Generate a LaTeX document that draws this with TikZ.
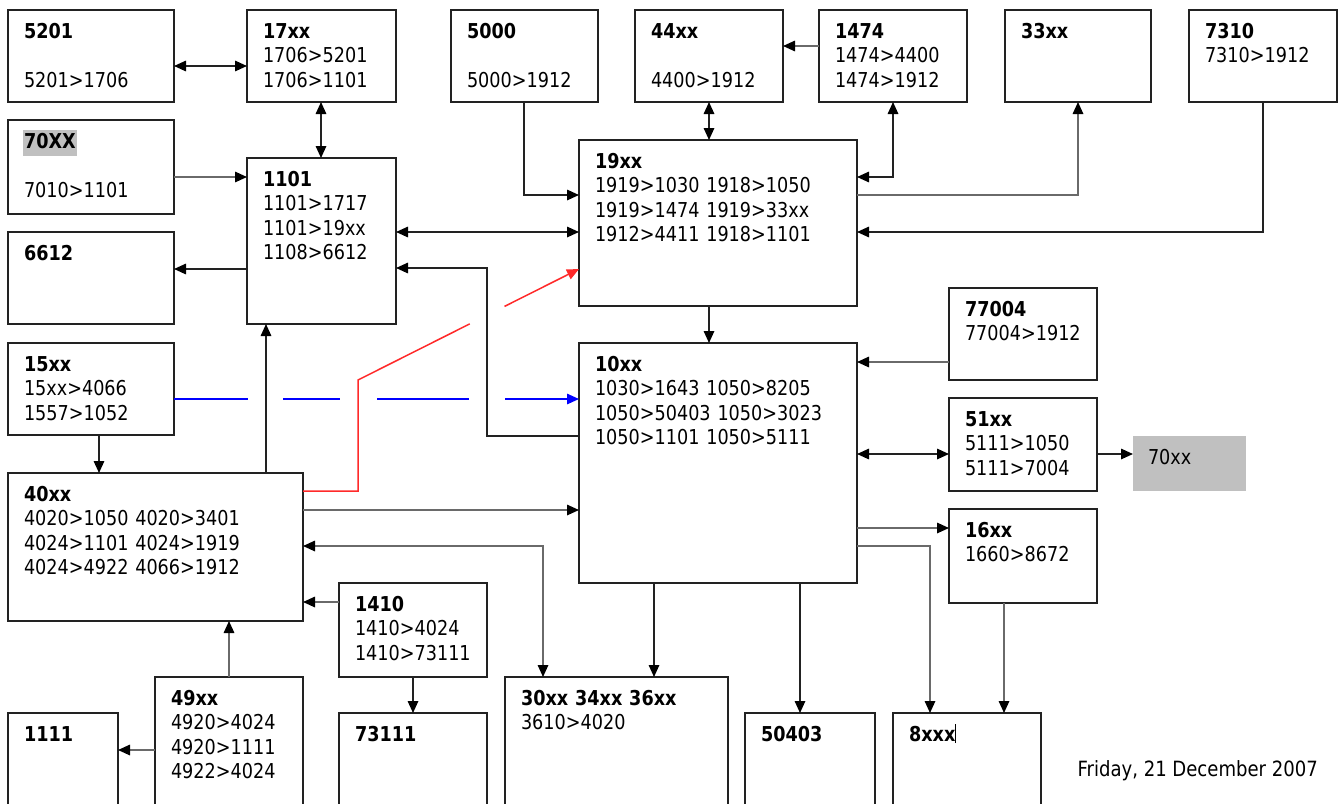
\documentclass[tikz,border=0pt]{standalone}
\usepackage{fontspec}
\setmainfont{DejaVu Sans}[FakeStretch=0.86]
\usetikzlibrary{arrows.meta}
\definecolor{lk}{HTML}{222222}
\definecolor{lg}{HTML}{6A6A6A}
\definecolor{hl}{HTML}{C0C0C0}
\definecolor{redline}{HTML}{FF2A2A}
\tikzset{tk/.tip={Triangle[length=12pt,width=10.5pt,black]}}

\begin{document}
\begin{tikzpicture}[x=1pt,y=-1pt,
  box/.style={draw=lk, line width=1.6pt, anchor=north west, outer sep=0pt, inner xsep=16pt, inner ysep=12pt, text height=16pt, align=left, font=\fontsize{20.5}{24.5}\selectfont},
  link/.style={draw=lk, line width=1.6pt, -tk},
  both/.style={link, tk-tk},
  glink/.style={link, draw=lg},
  gboth/.style={both, draw=lg}]
\path[use as bounding box, fill=white] (0,0) rectangle (1343,803);

% top row
\node[box, text width=134pt, text depth=52pt] (n5201) at (8,10) {\textbf{5201}\\[24.5pt]5201>1706};
\node[box, text width=117pt, text depth=52pt] (n17xx) at (247,10) {\textbf{17xx}\\1706>5201\\1706>1101};
\node[box, text width=115pt, text depth=52pt] (n5000) at (451,10) {\textbf{5000}\\[24.5pt]5000>1912};
\node[box, text width=116pt, text depth=52pt] (n44xx) at (635,10) {\textbf{44xx}\\[24.5pt]4400>1912};
\node[box, text width=116pt, text depth=52pt] (n1474) at (819,10) {\textbf{1474}\\1474>4400\\1474>1912};
\node[box, text width=114pt, text depth=52pt] (n33xx) at (1005,10) {\textbf{33xx}};
\node[box, text width=116pt, text depth=52pt] (n7310) at (1189,10) {\textbf{7310}\\7310>1912};

% left column
\node[box, text width=134pt, text depth=54pt] (n70xx) at (8,120) {\setlength\fboxsep{1pt}\hspace*{-1pt}\colorbox{hl}{\strut\textbf{70XX}}\\[24.5pt]7010>1101};
\node[box, text width=134pt, text depth=52pt] (n6612) at (8,232) {\textbf{6612}};
\node[box, text width=117pt, text depth=126pt] (n1101) at (247,158) {\textbf{1101}\\1101>1717\\1101>19xx\\1108>6612};
\node[box, text width=134pt, text depth=52pt] (n15xx) at (8,343) {\textbf{15xx}\\15xx>4066\\1557>1052};
\node[box, text width=263pt, text depth=108pt] (n40xx) at (8,473) {\textbf{40xx}\\4020>1050 4020>3401\\4024>1101 4024>1919\\4024>4922 4066>1912};

% middle
\node[box, text width=246pt, text depth=126pt] (n19xx) at (579,140) {\textbf{19xx}\\1919>1030 1918>1050\\1919>1474 1919>33xx\\1912>4411 1918>1101};
\node[box, text width=246pt, text depth=200pt] (n10xx) at (579,343) {\textbf{10xx}\\1030>1643 1050>8205\\1050>50403 1050>3023\\1050>1101 1050>5111};

% right column
\node[box, text width=116pt, text depth=52pt] (n77004) at (949,288) {\textbf{77004}\\77004>1912};
\node[box, text width=116pt, text depth=53pt] (n51xx) at (949,398) {\textbf{51xx}\\5111>1050\\5111>7004};
\node[box, draw=none, fill=hl, inner xsep=15pt, text width=83pt, text depth=15pt] (n70xxb) at (1133,436) {70xx};
\node[box, text width=116pt, text depth=54pt] (n16xx) at (949,509) {\textbf{16xx}\\1660>8672};

% bottom row
\node[box, text width=116pt, text depth=54pt] (n1410) at (339,583) {\textbf{1410}\\1410>4024\\1410>73111};
\node[box, text width=116pt, text depth=100pt] (n49xx) at (155,677) {\textbf{49xx}\\4920>4024\\4920>1111\\4922>4024};
\node[box, text width=78pt, text depth=60pt] (n1111) at (8,713) {\textbf{1111}};
\node[box, text width=116pt, text depth=60pt] (n73111) at (339,713) {\textbf{73111}};
\node[box, text width=191pt, text depth=100pt] (n30xx) at (505,677) {\textbf{30xx 34xx 36xx}\\3610>4020};
\node[box, text width=98pt, text depth=60pt] (n50403) at (745,713) {\textbf{50403}};
\node[box, text width=116pt, text depth=60pt] (n8xxx) at (893,713) {\textbf{8xxx}\rule[-2pt]{1pt}{19pt}};
\node[anchor=west, font=\fontsize{21}{24}\selectfont] (date) at (1074,771) {Friday, 21 December 2007};

% links
\draw[both] (n5201.east |- 0,66) -- (n17xx.west |- 0,66);
\draw[both] (n17xx.south -| 321,0) -- (n1101.north -| 321,0);
\draw[glink] (n70xx.east |- 0,177) -- (n1101.west |- 0,177);
\draw[link] (n1101.west |- 0,269) -- (n6612.east |- 0,269);
\draw[both] (n1101.east |- 0,232) -- (n19xx.west |- 0,232);
\draw[link] (n10xx.west |- 0,436) -| (487,268) -- (n1101.east |- 0,268);
\draw[link] (n5000.south -| 524,0) |- (n19xx.west |- 0,195);
\draw[both] (n44xx.south -| 709,0) -- (n19xx.north -| 709,0);
\draw[glink] (n1474.west |- 0,46) -- (n44xx.east |- 0,46);
\draw[both] (n19xx.east |- 0,177) -| (n1474.south -| 893,0);
\draw[glink] (n19xx.east |- 0,195) -| (n33xx.south -| 1078,0);
\draw[link] (n7310.south -| 1263,0) |- (n19xx.east |- 0,232);
\draw[link] (n19xx.south -| 709,0) -- (n10xx.north -| 709,0);
\draw[glink] (n77004.west |- 0,362) -- (n10xx.east |- 0,362);
\draw[both] (n10xx.east |- 0,454) -- (n51xx.west |- 0,454);
\draw[link] (n51xx.east |- 0,454) -- (n70xxb.west |- 0,454);
\draw[glink] (n10xx.east |- 0,528) -- (n16xx.west |- 0,528);
\draw[glink] (n10xx.east |- 0,546) -| (n8xxx.north -| 930,0);
\draw[glink] (n16xx.south -| 1004,0) -- (n8xxx.north -| 1004,0);
\draw[link] (n10xx.south -| 800,0) -- (n50403.north -| 800,0);
\draw[link] (n10xx.south -| 654,0) -- (n30xx.north -| 654,0);
\draw[gboth] (n30xx.north -| 543,0) |- (n40xx.east |- 0,546);
\draw[glink] (n40xx.east |- 0,510) -- (n10xx.west |- 0,510);
\draw[link] (n15xx.south -| 99,0) -- (n40xx.north -| 99,0);
\draw[link] (n40xx.north -| 266,0) -- (n1101.south -| 266,0);
\draw[glink] (n1410.west |- 0,602) -- (n40xx.east |- 0,602);
\draw[link] (n1410.south -| 413,0) -- (n73111.north -| 413,0);
\draw[glink] (n49xx.north -| 229,0) -- (n40xx.south -| 229,0);
\draw[glink] (n49xx.west |- 0,750) -- (n1111.east |- 0,750);
\draw[draw=blue, line width=1.5pt, -{Triangle[length=12pt,width=10.5pt,blue]}, dash pattern=on 74pt off 35pt on 57pt off 37pt on 92pt off 36pt on 200pt] (n15xx.east |- 0,399) -- (n10xx.west |- 0,399);
\draw[draw=redline, line width=1.5pt, -{Triangle[length=12pt,width=10.5pt,redline]}, dash pattern=on 291pt off 39pt on 400pt] (n40xx.east |- 0,491) -| (358,380) -- (n19xx.west |- 0,269);
\end{tikzpicture}
\end{document}
